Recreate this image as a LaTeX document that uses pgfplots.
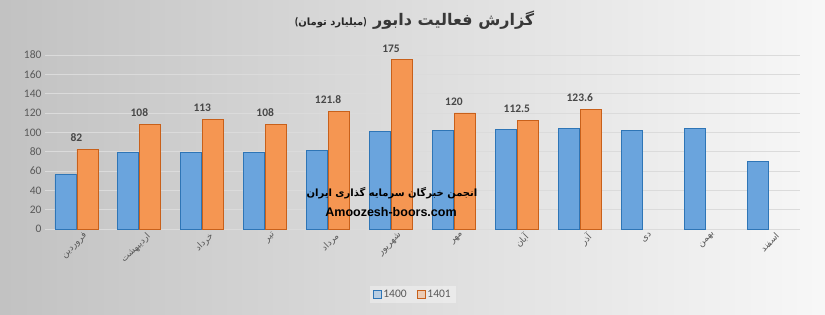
\documentclass[border=0pt]{standalone}
\usepackage{fontspec}
\setmainfont{Carlito}
\newfontfamily\arabicfont[Script=Arabic]{DejaVu Sans}
\newfontfamily\wmfont{Liberation Sans}
\usepackage{pgfplots}
\usepackage{pgfplotstable}
\pgfplotsset{compat=1.18}
\TeXXeTstate=1
\definecolor{blueF}{RGB}{106,164,221}
\definecolor{blueD}{RGB}{46,117,182}
\definecolor{orF}{RGB}{245,150,82}
\definecolor{orD}{RGB}{200,96,26}
\definecolor{txt}{RGB}{89,89,89}

\pgfplotstableread{
x y
0 56
1 79
2 79
3 79
4 81
5 101
6 102
7 103
8 104
9 102
10 104
11 70
}\dataA

\pgfplotstableread{
x y
0 82
1 108
2 113
3 108
4 121.8
5 175
6 120
7 112.5
8 123.6
}\dataB

\begin{document}
\begin{tikzpicture}
\fill[left color=black!24, middle color=black!9, right color=black!3] (0pt,0pt) rectangle (825pt,315pt);
\begin{axis}[
  at={(45pt,86pt)}, anchor=south west,
  width=755pt, height=174pt, scale only axis,
  xmin=-0.5, xmax=11.5, ymin=0, ymax=180,
  ytick={0,20,...,180},
  xtick={0,...,11},
  xticklabels={{فروردین},{اردیبهشت},{خرداد},{تیر},{مرداد},{شهریور},{مهر},{آبان},{آذر},{دی},{بهمن},{اسفند}},
  xticklabel style={font=\arabicfont\fontsize{9}{10}\selectfont, rotate=45, anchor=north east, text=txt, yshift=-3pt, xshift=6pt},
  yticklabel style={font=\fontsize{11.5}{12}\selectfont, text=txt},
  /pgf/number format/assume math mode=true,
  major tick length=0pt,
  axis line style={draw=none},
  ymajorgrids,
  major grid style={black!14, line width=0.7pt},
  extra y ticks={0}, extra y tick labels={},
  extra y tick style={grid style={black!65, line width=1.4pt}},
  clip=false,
  legend style={at={(0.487,-0.374)}, anchor=center, legend columns=2, draw=none,
     fill=white, fill opacity=0.35, text opacity=1, font=\fontsize{11.5}{12}\selectfont, text=txt,
     /tikz/every even column/.append style={column sep=8pt}},
]
\addplot[ybar, bar width=21pt, bar shift=-11pt, fill=blueF, draw=blueD, line width=0.8pt,
  legend image code/.code={\draw[fill=blueF, draw=blueD, line width=0.8pt] (0pt,-4pt) rectangle (8pt,4pt);}]
  table[x=x,y=y]{\dataA};
\addlegendentry{1400}
\addplot[ybar, bar width=21pt, bar shift=11pt, fill=orF, draw=orD, line width=0.8pt,
  nodes near coords,
  nodes near coords style={font=\bfseries\fontsize{11.5}{12}\selectfont, text=black!72, yshift=4pt},
  legend image code/.code={\draw[fill=orF, draw=orD, line width=0.8pt] (0pt,-4pt) rectangle (8pt,4pt);}]
  table[x=x,y=y]{\dataB};
\addlegendentry{1401}
\end{axis}
\node[font=\arabicfont\bfseries\fontsize{10}{12}\selectfont, text=black] at (392pt,122pt) {\beginR انجمن خبرگان سرمایه گذاری ایران\endR};
\node[font=\wmfont\bfseries\fontsize{12.5}{14}\selectfont, text=black] at (391pt,103pt) {Amoozesh-boors.com};
\node[anchor=base west, font=\arabicfont\bfseries\fontsize{16}{18}\selectfont, text=black!78, inner sep=0pt] at (373pt,289pt) {\beginR گزارش فعالیت دابور\endR};
\node[anchor=base east, font=\arabicfont\bfseries\fontsize{10}{12}\selectfont, text=black!85, inner sep=0pt] at (367pt,289pt) {\hbox{\normalfont\bfseries\fontsize{11}{12}\selectfont (}\hbox{تومان} \hbox{میلیارد}\hbox{\normalfont\bfseries\fontsize{11}{12}\selectfont )}};
\pgfresetboundingbox
\path[use as bounding box] (0pt,0pt) rectangle (825pt,315pt);
\end{tikzpicture}
\end{document}
